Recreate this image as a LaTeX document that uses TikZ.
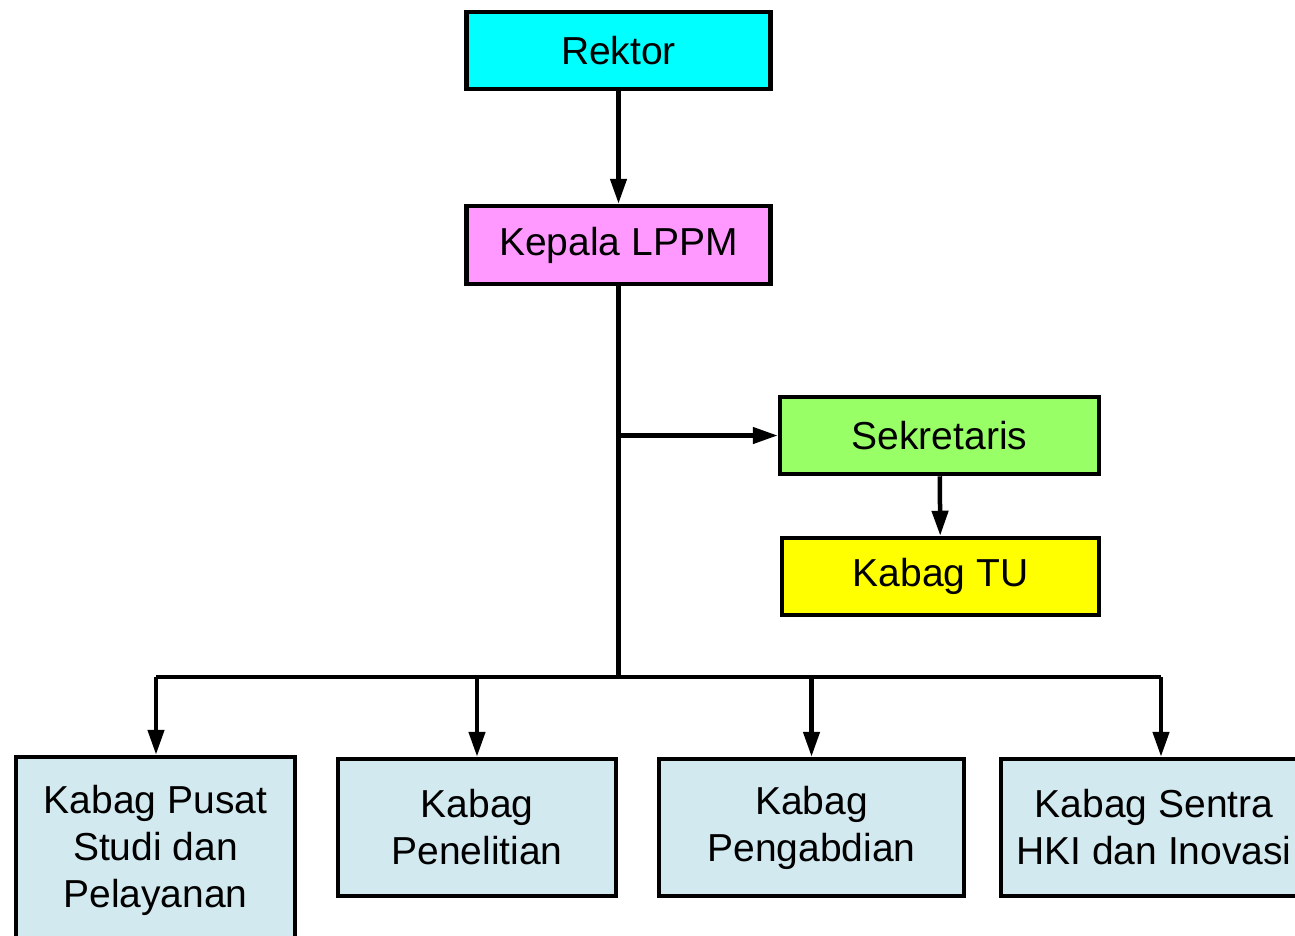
\documentclass[tikz,border=0pt]{standalone}
\usepackage{fontspec}
\setmainfont{Liberation Sans}
\usetikzlibrary{arrows.meta}

\definecolor{rektorcol}{HTML}{00FFFF}
\definecolor{kepalacol}{HTML}{FF99FF}
\definecolor{sekrcol}{HTML}{99FF66}
\definecolor{tucol}{HTML}{FFFF00}
\definecolor{kabagcol}{HTML}{D2E9EF}

\begin{document}
\begin{tikzpicture}[x=1pt,y=-1pt,
    every node/.style={draw,line width=4.5pt,inner sep=0pt,align=center,
      font=\fontsize{39}{47}\selectfont},
    arw/.style={line width=4.5pt,-{Triangle[length=25pt,width=16pt]}},
    ln/.style={line width=4.5pt}]
  \useasboundingbox (0,0) rectangle (1295,935);
  \clip (0,0) rectangle (1295,935);
  \node[fill=rektorcol,minimum width=304pt,minimum height=77pt] (Rektor) at (618.5,50.5) {Rektor};
  \node[fill=kepalacol,minimum width=304pt,minimum height=78pt] (Kepala) at (618.5,245) {Kepala LPPM};
  \node[fill=sekrcol,minimum width=319pt,minimum height=77pt] (Sekretaris) at (939.5,435.5) {Sekretaris};
  \node[fill=tucol,minimum width=317pt,minimum height=77pt] (KabagTU) at (940.5,576.5) {Kabag TU};
  \node[fill=kabagcol,minimum width=279pt,minimum height=186pt] (Pusat) at (155.5,850) {Kabag Pusat\\Studi dan\\Pelayanan};
  \node[fill=kabagcol,minimum width=278pt,minimum height=137pt] (Penelitian) at (477,827.5) {Kabag\\Penelitian};
  \node[fill=kabagcol,minimum width=305pt,minimum height=137pt] (Pengabdian) at (811.5,827.5) {Kabag\\Pengabdian};
  \node[fill=kabagcol,minimum width=306pt,minimum height=137pt] (Sentra) at (1154,827.5) {Kabag Sentra\\HKI dan Inovasi};
  \coordinate (bus) at (618.5,677);
  \coordinate (busL) at (156,677);
  \coordinate (busR) at (1161,677);
  \draw[arw] (Rektor) -- (Kepala);
  \draw[ln] (Kepala.south) -- (bus);
  \draw[arw] (Kepala.south |- Sekretaris.west) -- (Sekretaris.west);
  \draw[arw] (Sekretaris) -- (KabagTU);
  \draw[ln] (busL) -- (busR);
  \draw[arw] (busL) -- (busL |- Pusat.north);
  \draw[arw] (Penelitian.north |- bus) -- (Penelitian.north);
  \draw[arw] (Pengabdian.north |- bus) -- (Pengabdian.north);
  \draw[arw] (busR) -- (busR |- Sentra.north);
\end{tikzpicture}
\end{document}
